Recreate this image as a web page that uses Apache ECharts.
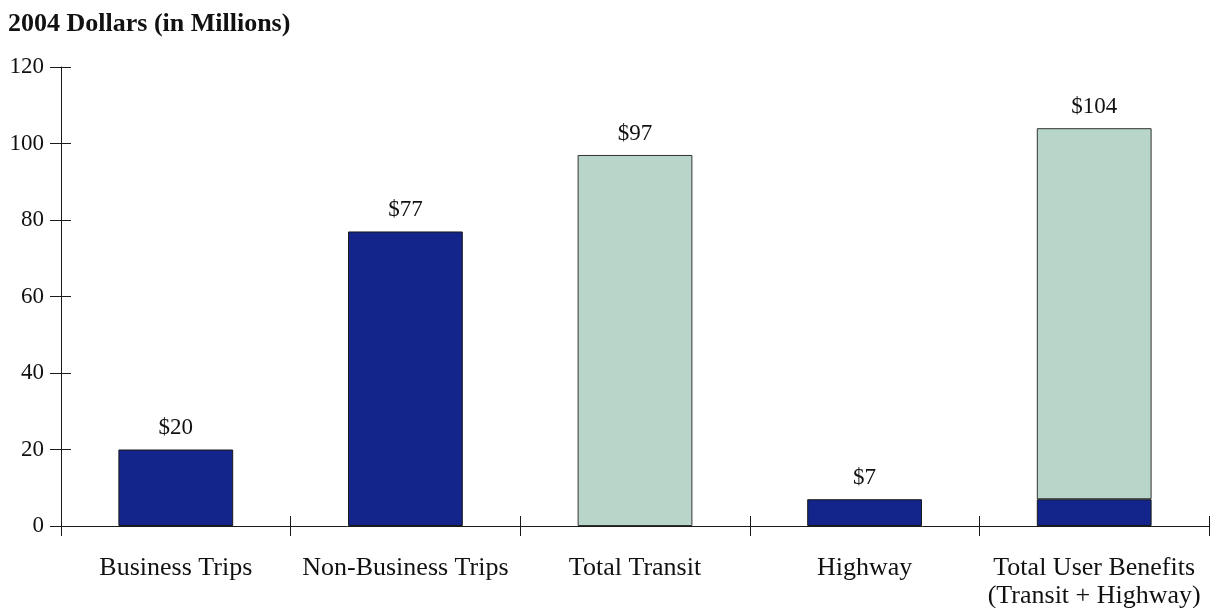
<!DOCTYPE html>
<html>
<head>
<meta charset="utf-8">
<script src="https://cdn.jsdelivr.net/npm/echarts@6/dist/echarts.min.js"></script>
<style>
  html, body { margin: 0; padding: 0; background: #fff; }
  #chart { width: 1210px; height: 608px; }
</style>
</head>
<body>
<div id="chart"></div>
<script>
// User benefits, 2004 dollars (millions)
const categories = [
  'Business Trips',
  'Non-Business Trips',
  'Total Transit',
  'Highway',
  'Total User Benefits\n(Transit + Highway)'
];
const businessTrips = 20;
const nonBusinessTrips = 77;
const totalTransit = 97;
const highway = 7;

// dark-blue segments (components) and light-green segments (transit totals)
const blueValues = [businessTrips, nonBusinessTrips, null, highway, highway];
const greenValues = [null, null, totalTransit, null, totalTransit];
const yTicks = [0, 20, 40, 60, 80, 100, 120];

const FONT = '"Liberation Serif", "DejaVu Serif", serif';
const BLUE = '#13248a';
const GREEN = '#b8d5ca';
const INK = '#1a1a1a';

const money = v => '$' + v;

const valueLabel = {
  show: true,
  position: 'top',
  distance: 10,
  color: '#111',
  fontFamily: FONT,
  fontSize: 23
};

const blueData = blueValues.map((v, i) => ({
  value: v,
  // the highway slice of the total bar carries no own label
  label: Object.assign({}, valueLabel, {
    show: v != null && i !== 4,
    formatter: p => money(p.value)
  })
}));
const greenData = greenValues.map((v, i) => ({
  value: v,
  // label shows the full stack height
  label: Object.assign({}, valueLabel, {
    show: v != null,
    formatter: () => money((blueValues[i] || 0) + v)
  })
}));

const yMin = yTicks[0];
const yMax = yTicks[yTicks.length - 1];
const yStep = yTicks[1] - yTicks[0];

const chart = echarts.init(document.getElementById('chart'), null, { renderer: 'canvas' });
chart.setOption({
  animation: false,
  backgroundColor: '#fff',
  title: {
    text: '2004 Dollars (in Millions)',
    left: 3,
    top: 6,
    textStyle: { fontFamily: FONT, fontSize: 26, fontWeight: 'bold', color: '#111' }
  },
  grid: { left: 61, right: 1, top: 67, bottom: 82, containLabel: false, outerBoundsMode: 'none' },
  xAxis: [
    {
      type: 'category',
      data: categories,
      position: 'bottom',
      boundaryGap: true,
      axisLine: { show: true, lineStyle: { color: INK, width: 1 } },
      axisTick: { show: true, interval: 0, length: 10, lineStyle: { color: INK, width: 1 } },
      axisLabel: {
        interval: 0,
        margin: 28,
        color: '#111',
        fontFamily: FONT,
        fontSize: 26,
        lineHeight: 28
      },
      splitLine: { show: false }
    },
    {
      // upper half of the crossing category ticks
      type: 'category',
      data: categories,
      position: 'bottom',
      boundaryGap: true,
      axisLine: { show: false },
      axisTick: { show: true, inside: true, interval: 0, length: 10, lineStyle: { color: INK, width: 1 } },
      axisLabel: { show: false },
      splitLine: { show: false }
    }
  ],
  yAxis: [
    {
      type: 'value',
      min: yMin,
      max: yMax,
      interval: yStep,
      position: 'left',
      axisLine: { show: true, lineStyle: { color: INK, width: 1 } },
      axisTick: { show: true, length: 11, lineStyle: { color: INK, width: 1 } },
      axisLabel: { margin: 17, color: '#111', fontFamily: FONT, fontSize: 23 },
      splitLine: { show: false }
    },
    {
      // right half of the crossing value ticks
      type: 'value',
      min: yMin,
      max: yMax,
      interval: yStep,
      position: 'left',
      offset: 0,
      axisLine: { show: false },
      axisTick: { show: true, inside: true, length: 10, lineStyle: { color: INK, width: 1 } },
      axisLabel: { show: false },
      splitLine: { show: false }
    }
  ],
  series: [
    {
      name: 'Component',
      type: 'bar',
      stack: 'benefits',
      barWidth: '50%',
      data: blueData,
      itemStyle: { color: BLUE, borderColor: INK, borderWidth: 1 },
      z: 3
    },
    {
      name: 'Transit',
      type: 'bar',
      stack: 'benefits',
      barWidth: '50%',
      data: greenData,
      itemStyle: { color: GREEN, borderColor: '#333', borderWidth: 1 },
      z: 2
    }
  ]
});
</script>
</body>
</html>
